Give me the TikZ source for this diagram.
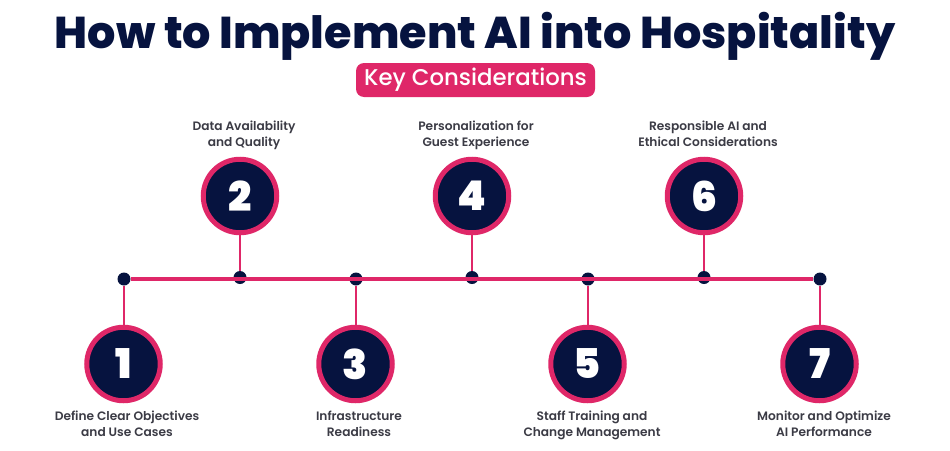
\documentclass[tikz,border=0pt]{standalone}
\usepackage{fontspec}
\setmainfont{Poppins}
\definecolor{navy}{HTML}{06133F}
\definecolor{rose}{HTML}{DF2768}
\definecolor{caption}{HTML}{3B3B45}
\tikzset{
	numcircle/.style={circle,draw=rose,fill=navy,line width=5pt,minimum size=73.5pt,inner sep=0pt,text=white,font=\fontsize{41}{41}\selectfont\fontspec{Poppins Black}},
	dotnode/.style={circle,fill=navy,minimum size=13pt,inner sep=0pt},
	label/.style={align=center,text=caption,text depth=3.2pt,font=\fontsize{12.2}{16}\selectfont\fontspec{Poppins SemiBold}},
	link/.style={draw=rose,line width=2.6pt},
}
\begin{document}
\begin{tikzpicture}[x=1pt,y=-1pt]
	\useasboundingbox (0,0) rectangle (950,450);
	\node[text=navy,font=\fontsize{44.5}{50}\selectfont\fontspec{Poppins ExtraBold}] (title) at (475,36.5) {How to Implement AI into Hospitality};
	\node[fill=rose,rounded corners=8pt,minimum width=239pt,minimum height=34pt,inner sep=0pt,text=white,font=\fontsize{22.8}{24}\selectfont\fontspec{Poppins Medium}] (subtitle) at (475.5,80) {Key Considerations};
	% timeline
	\node[dotnode] (dot1) at (124,279) {};
	\node[dotnode] (dot2) at (240,277.5) {};
	\node[dotnode] (dot3) at (356,279) {};
	\node[dotnode] (dot4) at (472,277.5) {};
	\node[dotnode] (dot5) at (588,279) {};
	\node[dotnode] (dot6) at (704,277.5) {};
	\node[dotnode] (dot7) at (820,279) {};
	% numbered circles
	\node[numcircle] (num1) at (123.5,364) {1};
	\node[numcircle] (num2) at (240,196) {2};
	\node[numcircle] (num3) at (355.5,364) {3};
	\node[numcircle] (num4) at (472,196) {4};
	\node[numcircle] (num5) at (587.5,364) {5};
	\node[numcircle] (num6) at (704,196) {6};
	\node[numcircle] (num7) at (819.5,364) {7};
	\draw[link,line width=4pt] (dot1.east) -- (dot7.west);
	\draw[link] (dot1) -- (dot1 |- num1.north);
	\draw[link] (dot2) -- (dot2 |- num2.south);
	\draw[link] (dot3) -- (dot3 |- num3.north);
	\draw[link] (dot4) -- (dot4 |- num4.south);
	\draw[link] (dot5) -- (dot5 |- num5.north);
	\draw[link] (dot6) -- (dot6 |- num6.south);
	\draw[link] (dot7) -- (dot7 |- num7.north);
	% captions
	\node[label] (text1) at (127,425.5) {Define Clear Objectives\\and Use Cases};
	\node[label] (text2) at (244,135.5) {Data Availability\\and Quality};
	\node[label] (text3) at (359,425.5) {Infrastructure\\Readiness};
	\node[label] (text4) at (476,135.5) {Personalization for\\Guest Experience};
	\node[label] (text5) at (592,425.5) {Staff Training and\\Change Management};
	\node[label] (text6) at (708,135.5) {Responsible AI and\\Ethical Considerations};
	\node[label] (text7) at (824,425.5) {Monitor and Optimize\\AI Performance};
\end{tikzpicture}
\end{document}
